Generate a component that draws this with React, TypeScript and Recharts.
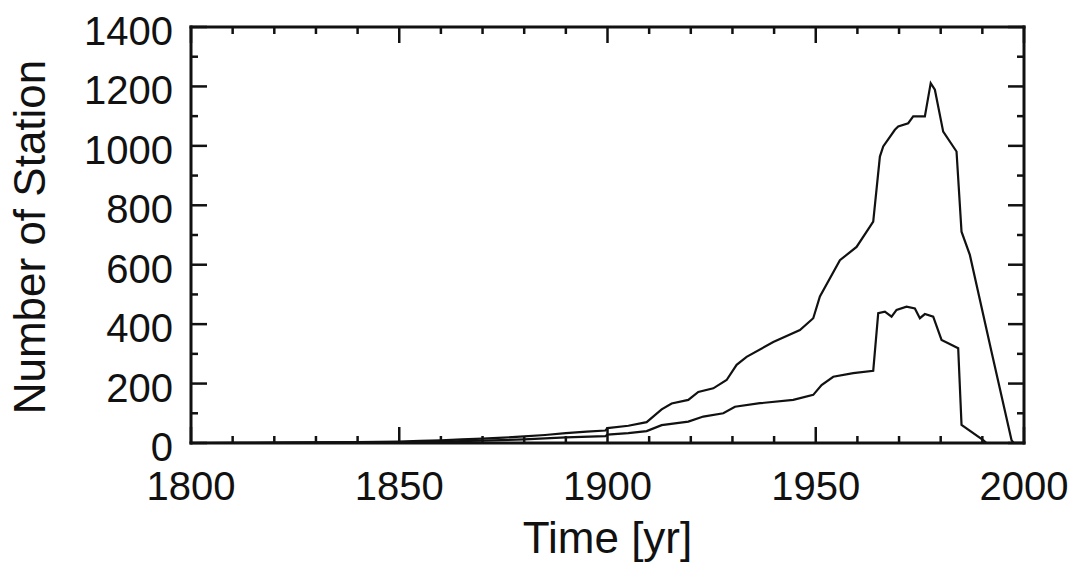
import { Label, Line, LineChart, XAxis, YAxis } from "recharts";

const FONT = "'Liberation Sans', Arial, Helvetica, sans-serif";
const INK = "#111";

// upper curve: all stations
const totalYears = [
  1800, 1810, 1820, 1830, 1840, 1850, 1855, 1860, 1865, 1870, 1875, 1880, 1885, 1890, 1895,
  1899.5, 1900, 1905, 1909.4, 1913, 1915.4, 1919.4, 1921.8, 1925.4, 1928.6, 1931, 1933.4,
  1939.8, 1946.2, 1949.4, 1951, 1955.8, 1959.8, 1963.8, 1965.4, 1966.2, 1969, 1969.8, 1972.2,
  1973.4, 1976.2, 1977.6, 1978.6, 1980.6, 1983.8, 1985, 1987, 1992.2, 1997, 1997.5,
];
const totalCounts = [
  0, 0.5, 1, 2, 3, 5, 7, 9, 12, 15, 18, 22, 27, 33, 38, 42, 50, 58, 70, 113, 133, 145, 172,
  184, 212, 263, 290, 340, 380, 420, 493, 615, 660, 745, 964, 998, 1054, 1065, 1076, 1099,
  1099, 1211, 1189, 1048, 981, 711, 633, 307, 10, 0,
];

// lower curve
const lowerYears = [
  1800, 1820, 1830, 1840, 1850, 1860, 1870, 1880, 1890, 1899.5, 1900, 1905, 1909.4, 1913,
  1919.4, 1923, 1927.8, 1930.6, 1936.6, 1944.6, 1949.4, 1951.4, 1954.2, 1959, 1963.8, 1965,
  1966.6, 1968.2, 1969.4, 1971.8, 1973.8, 1975, 1976.2, 1978.2, 1980.2, 1981.8, 1984.2, 1985,
  1990.2, 1991,
];
const lowerCounts = [
  0, 0.5, 1, 2, 3, 5, 8, 12, 19, 23, 28, 33, 40, 60, 72, 89, 100, 122, 134, 145, 162, 195,
  223, 235, 243, 437, 442, 425, 448, 459, 453, 420, 434, 425, 347, 336, 319, 61, 10, 0,
];

const xTicks = [
  1800, 1810, 1820, 1830, 1840, 1850, 1860, 1870, 1880, 1890, 1900, 1910, 1920, 1930, 1940,
  1950, 1960, 1970, 1980, 1990, 2000,
];
const yTicks = [0, 100, 200, 300, 400, 500, 600, 700, 800, 900, 1000, 1100, 1200, 1300, 1400];

const totalData = totalYears.map((year, i) => ({ year, count: totalCounts[i] }));
const lowerData = lowerYears.map((year, i) => ({ year, count: lowerCounts[i] }));

const MAJOR = 16;
const MINOR = 7;
const axisLine = { stroke: INK, strokeWidth: 3, strokeLinecap: "square" as const };

function BottomTick({ x, y, payload }: any) {
  const major = payload.value % 50 === 0;
  return (
    <g>
      <line x1={x} y1={y} x2={x} y2={y - (major ? MAJOR : MINOR)} stroke={INK} strokeWidth={2.5} />
      {major && (
        <text x={x} y={y + 57} textAnchor="middle" fontSize={40} fontFamily={FONT} fill={INK}>
          {payload.value}
        </text>
      )}
    </g>
  );
}

function TopTick({ x, y, payload }: any) {
  const major = payload.value % 50 === 0;
  return <line x1={x} y1={y} x2={x} y2={y + (major ? MAJOR : MINOR)} stroke={INK} strokeWidth={2.5} />;
}

function LeftTick({ x, y, payload }: any) {
  const major = payload.value % 200 === 0;
  return (
    <g>
      <line x1={x} y1={y} x2={x + (major ? MAJOR : MINOR)} y2={y} stroke={INK} strokeWidth={2.5} />
      {major && (
        <text x={x - 18} y={y + 18} textAnchor="end" fontSize={40} fontFamily={FONT} fill={INK}>
          {payload.value}
        </text>
      )}
    </g>
  );
}

function RightTick({ x, y, payload }: any) {
  const major = payload.value % 200 === 0;
  return <line x1={x} y1={y} x2={x - (major ? MAJOR : MINOR)} y2={y} stroke={INK} strokeWidth={2.5} />;
}

export default function App() {
  return (
    <div style={{ position: "absolute", left: 0, top: 0, width: 1080, height: 562, background: "#fff" }}>
      <LineChart width={1080} height={562} margin={{ top: 26, right: 55, bottom: 118, left: 190 }}>
        <XAxis
          type="number"
          dataKey="year"
          domain={[1800, 2000]}
          ticks={xTicks}
          interval={0}
          height={1}
          tickSize={0}
          tickMargin={0}
          tickLine={false}
          axisLine={axisLine}
          tick={<BottomTick />}
          allowDataOverflow
        >
          <Label
            content={({ viewBox }: any) => (
              <text
                x={viewBox.x + viewBox.width / 2}
                y={viewBox.y + 110}
                textAnchor="middle"
                fontSize={44}
                fontFamily={FONT}
                fill={INK}
              >
                Time [yr]
              </text>
            )}
          />
        </XAxis>
        <XAxis
          xAxisId="top"
          orientation="top"
          type="number"
          dataKey="year"
          domain={[1800, 2000]}
          ticks={xTicks}
          interval={0}
          height={1}
          tickSize={0}
          tickMargin={0}
          tickLine={false}
          axisLine={axisLine}
          tick={<TopTick />}
          allowDataOverflow
        />
        <YAxis
          type="number"
          domain={[0, 1400]}
          ticks={yTicks}
          interval={0}
          width={1}
          tickSize={0}
          tickMargin={0}
          tickLine={false}
          axisLine={axisLine}
          tick={<LeftTick />}
          allowDataOverflow
        >
          <Label
            content={({ viewBox }: any) => {
              const cx = 45;
              const cy = viewBox.y + viewBox.height / 2 + 2;
              return (
                <text
                  x={cx}
                  y={cy}
                  transform={`rotate(-90 ${cx} ${cy})`}
                  textAnchor="middle"
                  fontSize={44}
                  fontFamily={FONT}
                  fill={INK}
                >
                  Number of Station
                </text>
              );
            }}
          />
        </YAxis>
        <YAxis
          yAxisId="right"
          orientation="right"
          type="number"
          domain={[0, 1400]}
          ticks={yTicks}
          interval={0}
          width={1}
          tickSize={0}
          tickMargin={0}
          tickLine={false}
          axisLine={axisLine}
          tick={<RightTick />}
          allowDataOverflow
        />
        <Line
          data={totalData}
          dataKey="count"
          type="linear"
          stroke={INK}
          strokeWidth={2.2}
          dot={false}
          isAnimationActive={false}
        />
        <Line
          data={lowerData}
          dataKey="count"
          type="linear"
          stroke={INK}
          strokeWidth={2.2}
          dot={false}
          isAnimationActive={false}
        />
      </LineChart>
    </div>
  );
}
